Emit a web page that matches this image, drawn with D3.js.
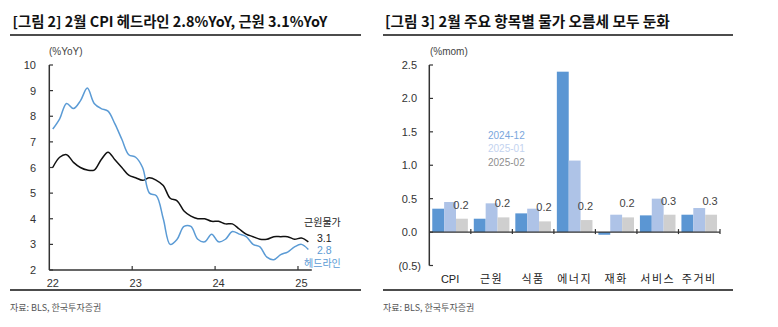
<!DOCTYPE html>
<html><head><meta charset="utf-8">
<script src="https://cdn.jsdelivr.net/npm/d3@7"></script>
<style>
body{margin:0;background:#fff;}
svg{display:block;}
text{font-family:"Liberation Sans","Noto Sans CJK KR",Arial,sans-serif;}
.kr{font-family:"Noto Sans CJK KR","Liberation Sans",sans-serif;}
</style></head>
<body>
<svg id="c" width="778" height="327"></svg>
<script>
// ---- Left chart data (US CPI, %YoY, Jan 2022 – Feb 2025) ----
const months = d3.range(38); // month index from Jan 2022
const headline = [7.5,7.9,8.5,8.3,8.6,9.1,8.5,8.3,8.2,7.7,7.1,6.5,
  6.4,6.0,5.0,4.9,4.0,3.0,3.2,3.7,3.7,3.2,3.1,3.4,
  3.1,3.2,3.5,3.4,3.3,3.0,2.9,2.5,2.4,2.6,2.7,2.9,
  3.0,2.8];
const core = [6.0,6.4,6.5,6.2,6.0,5.9,5.9,6.3,6.6,6.3,6.0,5.7,
  5.6,5.5,5.6,5.5,5.3,4.8,4.7,4.3,4.1,4.0,4.0,3.9,
  3.9,3.8,3.8,3.6,3.4,3.3,3.2,3.2,3.3,3.3,3.3,3.2,
  3.25,3.1];
const yearLabels = ["22","23","24","25"];
const leftYTicks = [2,3,4,5,6,7,8,9,10];

// ---- Right chart data (%mom) ----
const categories = ["CPI","근원","식품","에너지","재화","서비스","주거비"];
const seriesNames = ["2024-12","2025-01","2025-02"];
const dec24 = [0.35,0.2,0.28,2.4,-0.04,0.25,0.26];
const jan25 = [0.45,0.43,0.35,1.07,0.26,0.5,0.36];
const feb25 = [0.2,0.22,0.16,0.18,0.22,0.26,0.26];
const rightYTicks = [-0.5,0,0.5,1.0,1.5,2.0,2.5];

const svg = d3.select("#c");

function fitText(sel, target){
  const w = sel.node().getComputedTextLength();
  const fs = parseFloat(sel.attr("font-size"));
  sel.attr("font-size", fs*target/w);
}

// titles and rules
const t1 = svg.append("text").attr("class","kr").attr("x",12.5).attr("y",27)
  .attr("font-size",15).attr("font-weight",700).attr("fill","#111")
  .text("[그림 2] 2월 CPI 헤드라인 2.8%YoY, 근원 3.1%YoY");
fitText(t1,315);
const t2 = svg.append("text").attr("class","kr").attr("x",385).attr("y",27)
  .attr("font-size",15).attr("font-weight",700).attr("fill","#111")
  .text("[그림 3] 2월 주요 항목별 물가 오름세 모두 둔화");
fitText(t2,285);
[[10,361],[383,733]].forEach(([a,b])=>{
  svg.append("line").attr("x1",a).attr("x2",b).attr("y1",35).attr("y2",35).attr("stroke","#111").attr("stroke-width",1.5);
  svg.append("line").attr("x1",a).attr("x2",b).attr("y1",290).attr("y2",290).attr("stroke","#111").attr("stroke-width",1.5);
  svg.append("text").attr("class","kr").attr("x",a).attr("y",311).attr("font-size",9).attr("fill","#555").text("자료: BLS, 한국투자증권");
});

// ---- Left chart ----
const x = d3.scaleLinear().domain([0,38]).range([49.3,311.8]);
const y = d3.scaleLinear().domain([2,10]).range([270,65]);
const L = svg.append("g");
L.append("text").attr("x",49).attr("y",55).attr("font-size",10).attr("fill","#444").text("(%YoY)");
// y axis
L.append("line").attr("x1",49.3).attr("x2",49.3).attr("y1",y(10)).attr("y2",y(2)).attr("stroke","#333").attr("stroke-width",1.5);
leftYTicks.forEach(v=>{
  L.append("line").attr("x1",49.3).attr("x2",53).attr("y1",y(v)).attr("y2",y(v)).attr("stroke","#333").attr("stroke-width",1.2);
  L.append("text").attr("x",36).attr("y",y(v)+4).attr("text-anchor","end").attr("font-size",11).attr("fill","#333").text(v);
});
// x axis
L.append("line").attr("x1",49.3).attr("x2",311.8).attr("y1",270).attr("y2",270).attr("stroke","#333").attr("stroke-width",1.5);
yearLabels.forEach((lab,i)=>{
  const m = i*12;
  if(i>0) L.append("line").attr("x1",x(m)).attr("x2",x(m)).attr("y1",270).attr("y2",266).attr("stroke","#333").attr("stroke-width",1.2);
  L.append("text").attr("x",x(m+0.5)).attr("y",287).attr("text-anchor","middle").attr("font-size",11).attr("fill","#333").text(lab);
});
const line = d3.line().x((d,i)=>x(months[i]+0.5)).y(d=>y(d)).curve(d3.curveCatmullRom.alpha(0.5));
L.append("path").datum(core).attr("d",line).attr("fill","none").attr("stroke","#111").attr("stroke-width",1.5);
L.append("path").datum(headline).attr("d",line).attr("fill","none").attr("stroke","#5B9BD5").attr("stroke-width",1.5);
L.append("text").attr("class","kr").attr("x",304).attr("y",226).attr("font-size",10).attr("fill","#222").text("근원물가");
L.append("text").attr("x",317).attr("y",241.5).attr("font-size",10.5).attr("fill","#222").text(d3.format(".1f")(core[core.length-1]));
L.append("text").attr("x",317).attr("y",254).attr("font-size",10.5).attr("fill","#5B9BD5").text(d3.format(".1f")(headline[headline.length-1]));
L.append("text").attr("class","kr").attr("x",304).attr("y",267).attr("font-size",10).attr("fill","#5B9BD5").text("헤드라인");

// ---- Right chart ----
const xb = d3.scaleBand().domain(categories).range([429.3,720]).paddingInner(0).paddingOuter(0);
const yb = d3.scaleLinear().domain([-0.5,2.5]).range([265.5,65]);
const xs = d3.scaleBand().domain(seriesNames).range([0,xb.bandwidth()]).paddingInner(0).paddingOuter(0.25);
const colors = ["#5B96D3","#AEC3E7","#CFCFCF"];
const R = svg.append("g");
R.append("text").attr("x",430).attr("y",55).attr("font-size",10).attr("fill","#444").text("(%mom)");
const allSeries = [dec24,jan25,feb25];
categories.forEach((c,ci)=>{
  allSeries.forEach((s,si)=>{
    const v = s[ci];
    R.append("rect").attr("x",xb(c)+xs(seriesNames[si])).attr("width",xs.bandwidth())
      .attr("y",yb(Math.max(0,v))).attr("height",Math.abs(yb(v)-yb(0))).attr("fill",colors[si]);
  });
  R.append("text").attr("x",xb(c)+xs(seriesNames[2])+xs.bandwidth()/2-1).attr("y",yb(feb25[ci])-10)
    .attr("text-anchor","middle").attr("font-size",11).attr("fill","#444").text(d3.format(".1f")(feb25[ci]));
  R.append("text").attr("class", ci===0?"":"kr").attr("x",xb(c)+xb.bandwidth()/2).attr("y",283).attr("text-anchor","middle")
    .attr("font-size",11).attr("letter-spacing", ci===0?0:1.5).attr("fill","#222").text(c);
});
// axes
R.append("line").attr("x1",429.3).attr("x2",429.3).attr("y1",yb(2.5)).attr("y2",yb(-0.5)).attr("stroke","#333").attr("stroke-width",1.5);
rightYTicks.forEach(v=>{
  R.append("line").attr("x1",429.3).attr("x2",433).attr("y1",yb(v)).attr("y2",yb(v)).attr("stroke","#333").attr("stroke-width",1.2);
  const lab = v<0 ? "("+d3.format(".1f")(-v)+")" : d3.format(".1f")(v);
  R.append("text").attr("x",v<0?421:417).attr("y",yb(v)+4).attr("text-anchor","end").attr("font-size",11).attr("fill","#333").text(lab);
});
R.append("line").attr("x1",429.3).attr("x2",720).attr("y1",yb(0)).attr("y2",yb(0)).attr("stroke","#333").attr("stroke-width",1.2);
categories.forEach((c,ci)=>{
  const xx = xb(c)+xb.bandwidth();
  R.append("line").attr("x1",xx).attr("x2",xx).attr("y1",yb(0)-3).attr("y2",yb(0)+2).attr("stroke","#333").attr("stroke-width",1.2);
});
// legend
const legColors = ["#7AA7DD","#C3D3EF","#8E8E8E"];
seriesNames.forEach((n,i)=>{
  R.append("text").attr("x",488).attr("y",138.5+i*13.5).attr("font-size",10).attr("fill",legColors[i]).text(n);
});
</script>
</body></html>
